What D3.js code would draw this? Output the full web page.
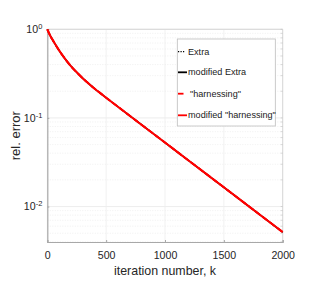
<!DOCTYPE html>
<html><head><meta charset="utf-8">
<script src="https://cdn.jsdelivr.net/npm/d3@7"></script>
<style>body{margin:0;background:#fff}svg{display:block;font-family:"Liberation Sans",Arial,sans-serif}</style>
</head><body><svg id="c" width="319" height="289"></svg>
<script>
const iterations = [0, 25, 50, 100, 150, 200, 250, 300, 350, 400, 450, 500, 600, 800, 1000, 1200, 1500, 1800, 2000];
const extra           = [1.0, 0.847, 0.741, 0.578, 0.466, 0.385, 0.327, 0.281, 0.245, 0.215, 0.1905, 0.169, 0.1337, 0.0839, 0.0527, 0.0331, 0.01648, 0.0082, 0.00515];
const modifiedExtra   = [1.0, 0.847, 0.741, 0.578, 0.466, 0.385, 0.327, 0.281, 0.245, 0.215, 0.1905, 0.169, 0.1337, 0.0839, 0.0527, 0.0331, 0.01648, 0.0082, 0.00515];
const harnessing      = [1.0, 0.847, 0.741, 0.578, 0.466, 0.385, 0.327, 0.281, 0.245, 0.215, 0.1905, 0.169, 0.1337, 0.0839, 0.0527, 0.0331, 0.01648, 0.0082, 0.00515];
const modifiedHarness = [1.0, 0.847, 0.741, 0.578, 0.466, 0.385, 0.327, 0.281, 0.245, 0.215, 0.1905, 0.169, 0.1337, 0.0839, 0.0527, 0.0331, 0.01648, 0.0082, 0.00515];
const xTicks = [0, 500, 1000, 1500, 2000];
const yTicks = [1, 0.1, 0.01];
const yTickExp = ["0", "-1", "-2"];
const seriesNames = ['Extra', 'modified Extra', '"harnessing"', 'modified "harnessing"'];

const svg = d3.select('#c');
const L = 47.3, R = 282.7, T = 29.3, B = 242;
const x = d3.scaleLinear().domain([0, 2000]).range([L, R]);
const y = d3.scaleLog().domain([0.00398, 1]).range([B, T]);

// grid
const g = svg.append('g');
const minor = [];
[0.001, 0.01, 0.1].forEach(d => { for (let k = 2; k <= 9; k++) { const v = d * k; if (v >= 0.00398 && v < 1) minor.push(v); } });
g.selectAll('.mn').data(minor).join('line')
  .attr('x1', L).attr('x2', R).attr('y1', d => y(d)).attr('y2', d => y(d))
  .attr('stroke', '#e6e6e6').attr('stroke-width', 0.6).attr('stroke-dasharray', '1,1.5');
g.selectAll('.gy').data(yTicks).join('line')
  .attr('x1', L).attr('x2', R).attr('y1', d => y(d)).attr('y2', d => y(d))
  .attr('stroke', '#e8e8e8').attr('stroke-width', 0.8);
g.selectAll('.gx').data(xTicks).join('line')
  .attr('x1', d => x(d)).attr('x2', d => x(d)).attr('y1', T).attr('y2', B)
  .attr('stroke', '#eeeeee').attr('stroke-width', 0.8);

// box top/right
svg.append('line').attr('x1', L).attr('x2', R).attr('y1', T).attr('y2', T).attr('stroke', '#d8d8d8');
svg.append('line').attr('x1', R).attr('x2', R).attr('y1', T).attr('y2', B).attr('stroke', '#d8d8d8');
svg.selectAll('.rt').data(minor.concat(yTicks)).join('line')
  .attr('x1', R - 2).attr('x2', R).attr('y1', d => y(d)).attr('y2', d => y(d)).attr('stroke', '#c0c0c0').attr('stroke-width', 0.6);

// axes
const xa = svg.append('g').attr('transform', `translate(0,${B})`)
  .call(d3.axisBottom(x).tickValues(xTicks).tickSize(-2).tickPadding(9).tickFormat(d3.format('d')));
const ya = svg.append('g').attr('transform', `translate(${L},0)`)
  .call(d3.axisLeft(y).tickValues(yTicks).tickSize(-2).tickPadding(6).tickFormat(() => ''));
[xa, ya].forEach(a => { a.select('.domain').attr('stroke', '#a8a8a8').attr('stroke-width', 1.2); a.selectAll('.tick line').attr('stroke', '#a8a8a8'); });
xa.selectAll('text').attr('font-size', 10.6).attr('fill', '#262626').attr('font-family', '"Liberation Sans",Arial,sans-serif');
ya.selectAll('.tick').each(function(d, i) {
  const t = d3.select(this).append('text').attr('x', -5).attr('dy', '0.32em').attr('text-anchor', 'end')
    .attr('fill', '#262626').attr('font-size', 10.6).attr('font-family', '"Liberation Sans",Arial,sans-serif');
  t.append('tspan').text('10');
  t.append('tspan').attr('font-size', 7.5).attr('dy', '-0.55em').text(yTickExp[i]);
});

// lines
const line = d3.line().x((d, i) => x(iterations[i])).y(d => y(d)).curve(d3.curveMonotoneX);
const styles = [
  { data: extra, color: '#000', dash: '1,1.5', w: 1.2 },
  { data: modifiedExtra, color: '#000', dash: null, w: 1.5 },
  { data: harnessing, color: '#ff0000', dash: '6,3', w: 2 },
  { data: modifiedHarness, color: '#ff0000', dash: null, w: 2 }
];
styles.forEach(s => svg.append('path').attr('d', line(s.data)).attr('fill', 'none')
  .attr('stroke', s.color).attr('stroke-width', s.w).attr('stroke-dasharray', s.dash));

// labels
svg.append('text').attr('x', (L + R) / 2).attr('y', 274.5).attr('text-anchor', 'middle')
  .attr('font-size', 12.4).attr('fill', '#262626').text('iteration number, k');
svg.append('text').attr('transform', `translate(20,${(T + B) / 2}) rotate(-90)`).attr('text-anchor', 'middle')
  .attr('font-size', 13).attr('fill', '#262626').text('rel. error');

// legend
const lg = svg.append('g');
lg.append('rect').attr('x', 177.3).attr('y', 39).attr('width', 98).attr('height', 87)
  .attr('fill', '#fff').attr('stroke', '#bdbdbd').attr('stroke-width', 0.8);
const ly = [51.7, 72.3, 93.7, 115.3];
const lstyles = [
  { color: '#000', dash: '1.2,1.3', w: 1.3, x2: 185 },
  { color: '#000', dash: null, w: 1.8, x2: 187 },
  { color: '#ff0000', dash: null, w: 1.8, x2: 183.5 },
  { color: '#ff0000', dash: null, w: 1.8, x2: 187 }
];
seriesNames.forEach((n, i) => {
  lg.append('line').attr('x1', 178).attr('x2', lstyles[i].x2).attr('y1', ly[i]).attr('y2', ly[i])
    .attr('stroke', lstyles[i].color).attr('stroke-width', lstyles[i].w).attr('stroke-dasharray', lstyles[i].dash);
  lg.append('text').attr('x', i === 2 ? 190 : 188).attr('y', ly[i]).attr('dy', '0.35em')
    .attr('font-size', 9.1).attr('fill', '#1a1a1a').text(n);
});
</script></body></html>
